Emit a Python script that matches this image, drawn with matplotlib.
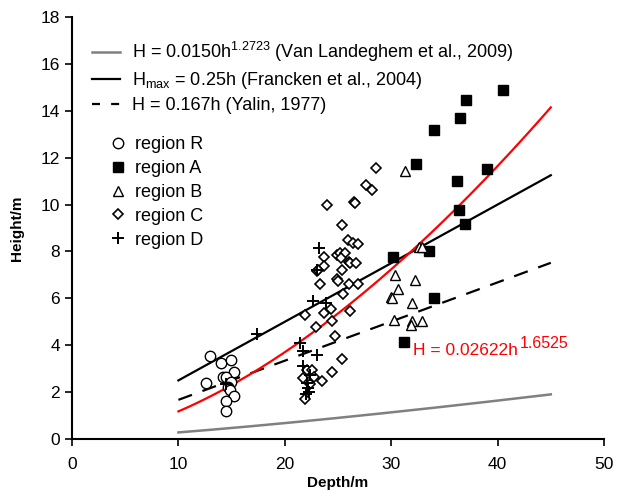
import numpy as np
import matplotlib
matplotlib.use("Agg")
import matplotlib.pyplot as plt
from matplotlib.lines import Line2D

plt.rcParams['font.family'] = ['Liberation Sans', 'DejaVu Sans']

# region R (circles)
r_depth = [13.0, 14.0, 14.9, 15.2, 12.6, 14.2, 14.5, 14.9, 14.7, 14.85, 15.2, 14.45, 14.5]
r_height = [3.52, 3.23, 3.38, 2.86, 2.37, 2.66, 2.66, 2.45, 2.23, 2.09, 1.83, 1.62, 1.21]

# region A (filled squares)
a_depth = [40.5, 37.0, 36.5, 34.0, 32.3, 39.0, 36.2, 36.35, 36.9, 30.15, 33.55, 34.05, 31.2]
a_height = [14.9, 14.45, 13.68, 13.2, 11.75, 11.5, 11.02, 9.77, 9.18, 7.78, 8.03, 6.03, 4.12]

# region B (triangles)
b_depth = [31.3, 32.6, 32.9, 30.35, 32.2, 30.65, 29.95, 30.1, 32.0, 30.3, 32.0, 31.85, 32.85]
b_height = [11.45, 8.18, 8.2, 7.0, 6.8, 6.38, 6.05, 6.0, 5.8, 5.07, 5.03, 4.86, 5.05]

# region C (diamonds)
c_depth = [28.55, 27.6, 28.2, 24.0, 26.5, 26.6, 25.35, 25.9, 26.4, 26.9,
           23.7, 24.9, 25.2, 25.66, 25.3, 26.0, 26.1, 26.7, 23.7, 23.0, 23.15,
           25.35, 23.3, 24.9, 25.0, 26.0, 26.9, 25.5,
           23.7, 24.3, 21.9, 26.1, 24.4, 22.9, 24.7, 25.4, 24.45, 23.5,
           22.1, 22.6, 22.7, 22.4, 21.9, 21.75]
c_height = [11.55, 10.82, 10.62, 9.97, 10.12, 10.05, 9.12, 8.49, 8.35, 8.3,
            7.78, 7.85, 7.92, 7.92, 7.71, 7.56, 7.49, 7.49, 7.38, 7.18, 7.22,
            7.2, 6.6, 6.81, 6.75, 6.6, 6.62, 6.18,
            5.39, 5.53, 5.29, 5.47, 5.05, 4.79, 4.38, 3.4, 2.86, 2.47,
            2.95, 2.95, 2.65, 2.33, 1.7, 2.6]

# region D (crosses)
d_depth = [17.35, 23.2, 23.05, 22.65, 23.9, 21.4, 21.7, 23.0, 21.7, 22.4,
           22.1, 22.15, 22.3, 22.0, 14.5]
d_height = [4.48, 8.13, 7.2, 5.9, 5.8, 4.1, 3.75, 3.58, 3.1, 2.73,
            2.38, 2.16, 2.02, 1.9, 2.35]

h = np.linspace(10, 45, 200)

fig = plt.figure(figsize=(6.23, 4.91), dpi=100)
ax = fig.add_axes([0.1156, 0.1059, 0.8539, 0.8595])

l1, = ax.plot(h, 0.0150 * h ** 1.2723, color='#808080', lw=1.8)
l2, = ax.plot(h, 0.25 * h, color='black', lw=1.6)
ax.plot(h, 0.167 * h, color='black', lw=1.6, dashes=(6.5, 5))
ax.plot(h, 0.02622 * h ** 1.6525, color='red', lw=1.6)
# legend-only handle so the short sample shows two dashes
l3 = Line2D([], [], color='black', lw=1.6, dashes=(3.6, 5))

ms = 7.5
m1, = ax.plot(r_depth, r_height, 'o', mfc='white', mec='black', ms=ms, mew=1.0, ls='none')
m2, = ax.plot(a_depth, a_height, 's', mfc='black', mec='black', ms=6.5, ls='none')
m3, = ax.plot(b_depth, b_height, '^', mfc='white', mec='black', ms=ms, mew=1.0, ls='none')
m4, = ax.plot(c_depth, c_height, 'D', mfc='white', mec='black', ms=5.5, mew=1.2, ls='none')
m5, = ax.plot(d_depth, d_height, '+', color='black', ms=8.5, mew=1.4, ls='none')

# red fit label with a larger superscript than mathtext gives
t = ax.text(32.05, 3.6, 'H = 0.02622h', color='red', fontsize=12.5)
ax.annotate('1.6525', xy=(1, 0.45), xycoords=t, color='red', fontsize=11.5,
            va='bottom', ha='left', xytext=(1, 0), textcoords='offset points')

leg1 = ax.legend([l1, l2, l3],
                 [r'H = 0.0150h$^{\mathregular{1.2723}}$ (Van Landeghem et al., 2009)',
                  r'H$_{\mathregular{max}}$ = 0.25h (Francken et al., 2004)',
                  'H = 0.167h (Yalin, 1977)'],
                 loc='upper left', bbox_to_anchor=(0.014, 0.976), frameon=False,
                 fontsize=13, handlelength=1.55, handletextpad=0.65,
                 labelspacing=0.35, borderaxespad=0.3)
ax.add_artist(leg1)
ax.legend([m1, m2, m3, m4, m5],
          ['region R', 'region A', 'region B', 'region C', 'region D'],
          loc='upper left', bbox_to_anchor=(0.045, 0.7476), frameon=False,
          fontsize=13, handlelength=1.0, handletextpad=0.45,
          labelspacing=0.38, borderaxespad=0.3)

ax.set_xlim(0, 50)
ax.set_ylim(0, 18)
ax.set_xticks(range(0, 51, 10))
ax.set_yticks(range(0, 19, 2))
ax.tick_params(labelsize=12.5, direction='out', length=5, width=1.2)
ax.tick_params(axis='x', pad=8)
for s in ['top', 'right']:
    ax.spines[s].set_visible(False)
for s in ['left', 'bottom']:
    ax.spines[s].set_linewidth(1.5)

ax.set_xlabel('Depth/m', fontsize=11, fontweight='bold', labelpad=3)
ax.set_ylabel('Height/m', fontsize=11, fontweight='bold', labelpad=12)

fig.savefig('out.png', dpi=100)
